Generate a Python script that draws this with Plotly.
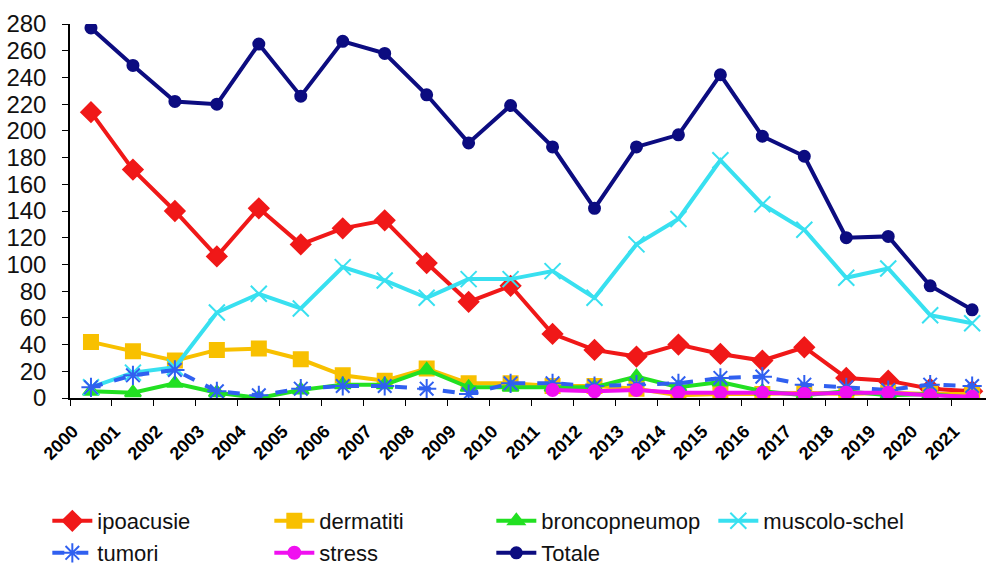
import plotly.graph_objects as go

years = [str(y) for y in range(2000, 2022)]

ipoacusie = [214, 171, 140, 106, 142, 115, 127, 133, 101, 72, 84, 48, 36, 31, 40, 33, 28, 38, 15, 13, 7, 5]
dermatiti = [42, 35, 28, 36, 37, 29, 17, 13, 22, 11, 11, 9, 9, 7, 2, 3, 3, 4, 3, 4, 3, 3]
broncopneumop = [5, 4, 11, 4, 0, 6, 10, 10, 21, 8, 8, 8, 8, 16, 8, 12, 5, 2, 5, 2, 3, 0]
muscolo_schel = [8, 19, 23, 64, 78, 67, 98, 88, 75, 89, 89, 95, 75, 115, 134, 178, 145, 126, 90, 97, 62, 56]
tumori = [8, 17, 21, 5, 2, 7, 9, 9, 7, 3, 11, 11, 9, 10, 11, 15, 16, 10, 8, 6, 10, 9]
stress = [None] * 11 + [6, 5, 6, 4, 4, 4, 3, 4, 4, 2, 1]
totale = [277, 249, 222, 220, 265, 226, 267, 258, 227, 191, 219, 188, 142, 188, 197, 242, 196, 181, 120, 121, 84, 66]

y_ticks = list(range(0, 281, 20))

series = [
    ("ipoacusie", ipoacusie, "#F01818", "diamond", 15, "solid", "legend"),
    ("dermatiti", dermatiti, "#F8C000", "square", 14, "solid", "legend"),
    ("broncopneumop", broncopneumop, "#22E022", "triangle-up", 14, "solid", "legend"),
    ("muscolo-schel", muscolo_schel, "#38E0F0", "x-thin-open", 16, "solid", "legend"),
    ("tumori", tumori, "#3060F0", "asterisk-open", 16, "dash", "legend2"),
    ("stress", stress, "#F010F0", "circle", 12, "solid", "legend2"),
    ("Totale", totale, "#0C0C80", "circle", 11, "solid", "legend2"),
]

fig = go.Figure()
for name, vals, color, sym, size, dash, lg in series:
    fig.add_trace(go.Scatter(
        x=years, y=vals, name=name, mode="lines+markers",
        line=dict(color=color, width=4, dash=dash),
        marker=dict(symbol=sym, size=size, color=color,
                    line=dict(color=color, width=2)),
        legend=lg,
    ))

leg_common = dict(orientation="h", entrywidth=167, entrywidthmode="pixels",
                  font=dict(family="Liberation Sans, Arial", size=22, color="#111"),
                  bgcolor="rgba(0,0,0,0)", xanchor="left", yanchor="middle",
                  xref="container", yref="container",
                  itemwidth=40, traceorder="normal")

fig.update_layout(
    width=986, height=565,
    margin=dict(l=70, r=0, t=24, b=167),
    paper_bgcolor="white", plot_bgcolor="white",
    showlegend=True,
    legend=dict(x=0.048, y=1 - 521 / 565, **leg_common),
    legend2=dict(x=0.048, y=1 - 553 / 565, **leg_common),
    xaxis=dict(type="category", range=[-0.5, 21.33], showgrid=False, automargin=False,
               showline=True, linecolor="black", linewidth=1.5,
               ticks="outside", tickson="boundaries", ticklen=6, tickcolor="black",
               tickangle=-45, ticklabelstandoff=14, ticklabelshift=-18,
               tickfont=dict(family="Liberation Sans, Arial", size=18, color="black", weight="bold")),
    yaxis=dict(range=[0, 280], tickvals=y_ticks, showgrid=False, zeroline=False, automargin=False,
               showline=True, linecolor="black", linewidth=1.5,
               ticks="outside", ticklen=6, tickcolor="black",
               ticklabelstandoff=11,
               tickfont=dict(family="Liberation Sans, Arial", size=24, color="#111")),
)

fig.write_html("out.html", config={"displayModeBar": False},
               post_script="document.body.style.margin='0px';document.body.style.overflow='hidden';")
